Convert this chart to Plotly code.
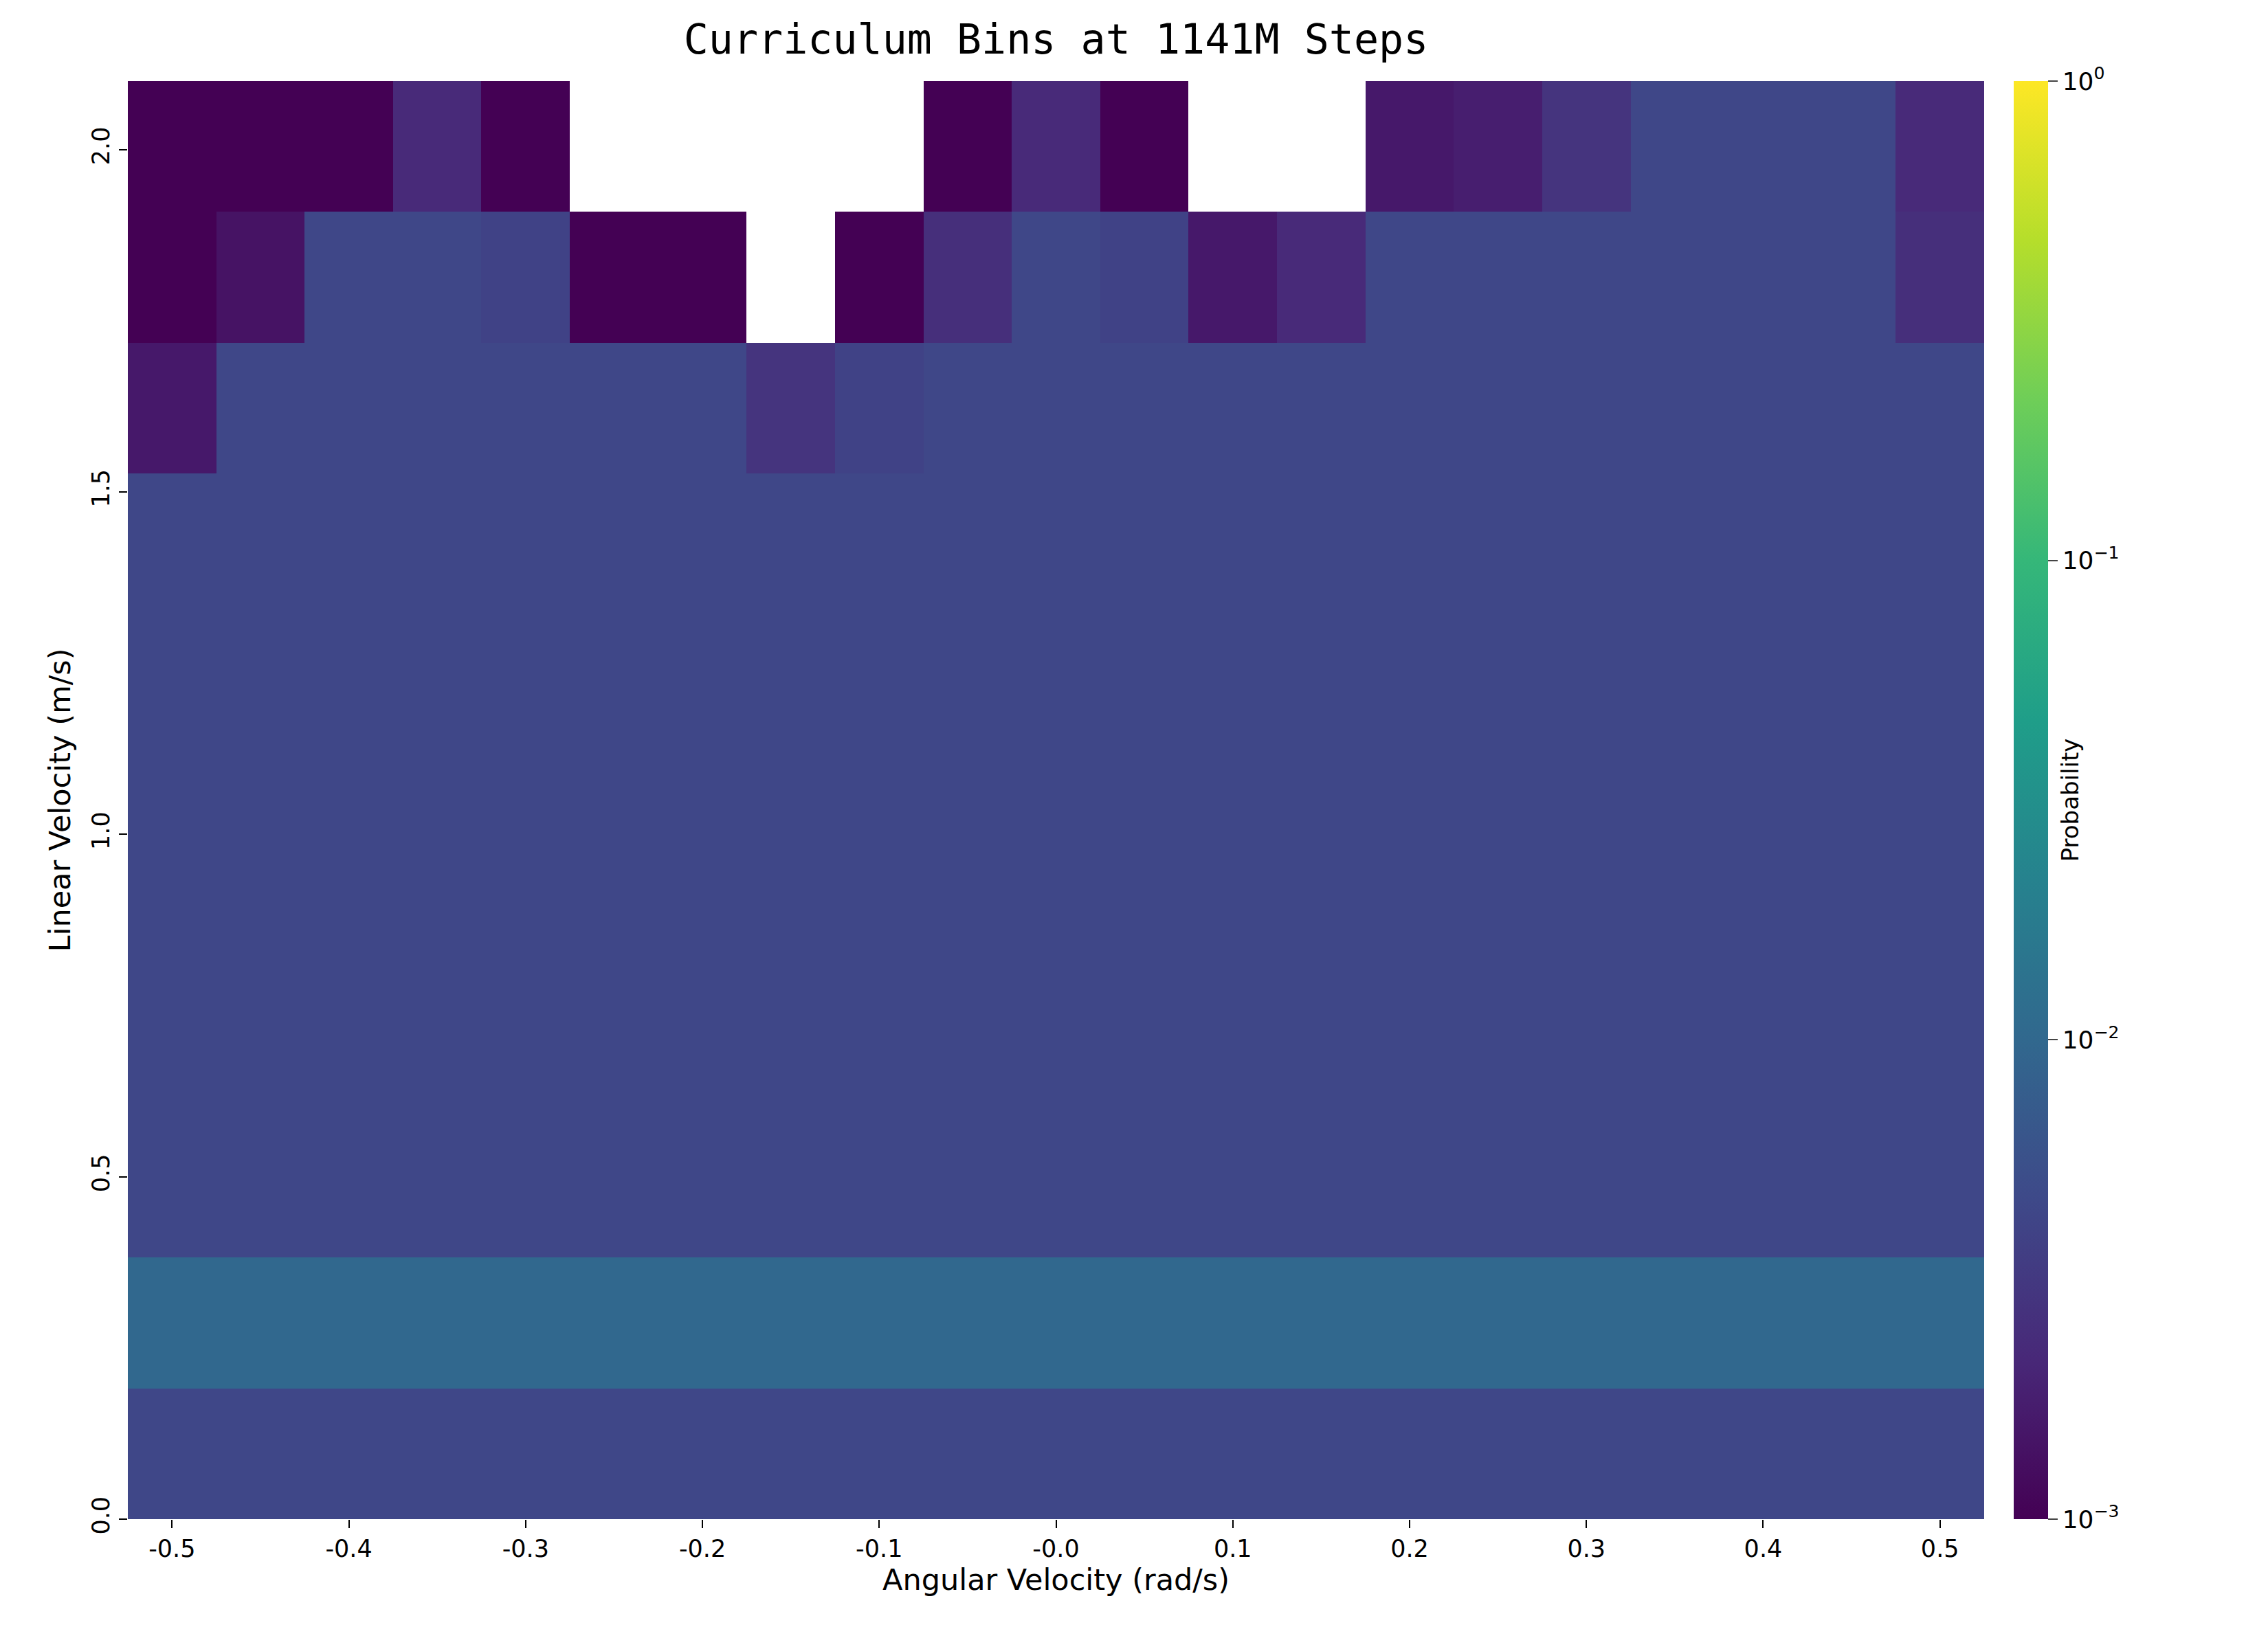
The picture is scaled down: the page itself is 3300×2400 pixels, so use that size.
import numpy as np
import plotly.graph_objects as go

x_centers = [round(-0.5 + 0.05 * i, 2) for i in range(21)]
n_rows = 11
y_step = 2.1 / n_rows
y_centers = [y_step * (i + 0.5) for i in range(n_rows)]

N = None
rows_log = [
    [-2.35] * 21,
    [-2.0] * 21,
    [-2.35] * 21,
    [-2.35] * 21,
    [-2.35] * 21,
    [-2.35] * 21,
    [-2.35] * 21,
    [-2.35] * 21,
    [-2.8, -2.35, -2.35, -2.35, -2.35, -2.35, -2.35, -2.55, -2.4, -2.35, -2.35, -2.35, -2.35, -2.35, -2.35, -2.35, -2.35, -2.35, -2.35, -2.35, -2.35],
    [-3, -2.85, -2.35, -2.35, -2.4, -3, -3, N, -3, -2.6, -2.35, -2.4, -2.8, -2.65, -2.35, -2.35, -2.35, -2.35, -2.35, -2.35, -2.6],
    [-3, -3, -3, -2.65, -3, N, N, N, N, -3, -2.65, -3, N, N, -2.8, -2.75, -2.55, -2.35, -2.35, -2.35, -2.65],
]
prob = [[(10 ** v if v is not None else None) for v in r] for r in rows_log]
z = [[(np.log10(p) if p is not None else None) for p in r] for r in prob]

x_ticks = [-0.5, -0.4, -0.3, -0.2, -0.1, 0.0, 0.1, 0.2, 0.3, 0.4, 0.5]
x_tick_labels = ["-0.5", "-0.4", "-0.3", "-0.2", "-0.1", "-0.0", "0.1", "0.2", "0.3", "0.4", "0.5"]
y_ticks = [0.0, 0.5, 1.0, 1.5, 2.0]
y_tick_labels = ["0.0", "0.5", "1.0", "1.5", "2.0"]
cb_vals = [-3, -2, -1, 0]
cb_text = ["10<sup>−3</sup>", "10<sup>−2</sup>", "10<sup>−1</sup>", "10<sup>0</sup>"]

fig = go.Figure(go.Heatmap(
    x=x_centers, y=y_centers, z=z, zmin=-3, zmax=0,
    colorscale="Viridis", hoverongaps=False,
    colorbar=dict(
        title=dict(text="Probability", side="right", font=dict(size=34, family="DejaVu Sans")),
        tickvals=cb_vals, ticktext=cb_text, thickness=50, len=1, lenmode="fraction",
        y=0, yanchor="bottom", x=1.016, xanchor="left", xpad=0, ypad=0,
        ticks="outside", ticklen=14, tickwidth=2, outlinewidth=0,
        tickfont=dict(size=36, family="DejaVu Sans", color="black"),
    ),
))
fig.update_layout(
    width=3300, height=2400, plot_bgcolor="white", paper_bgcolor="white",
    margin=dict(l=178, r=421, t=110, b=197),
    title=dict(text="Curriculum Bins at 1141M Steps", x=0.5, xref="paper", xanchor="center",
               y=1 - 28 / 2400, yanchor="top",
               font=dict(family="DejaVu Sans Mono", size=60, color="black")),
    font=dict(family="DejaVu Sans", color="black"),
)
fig.update_xaxes(range=[-0.525, 0.525], tickvals=x_ticks, ticktext=x_tick_labels,
                 ticks="outside", ticklen=12, tickwidth=2, tickcolor="black",
                 tickfont=dict(size=35), showgrid=False, zeroline=False,
                 title=dict(text="Angular Velocity (rad/s)", font=dict(size=43), standoff=10))
fig.update_yaxes(range=[0, 2.1], tickvals=y_ticks, ticktext=y_tick_labels, tickangle=-90,
                 ticks="outside", ticklen=12, tickwidth=2, tickcolor="black",
                 tickfont=dict(size=35), showgrid=False, zeroline=False,
                 title=dict(text="Linear Velocity (m/s)", font=dict(size=43), standoff=10))
fig.write_html("out.html")
